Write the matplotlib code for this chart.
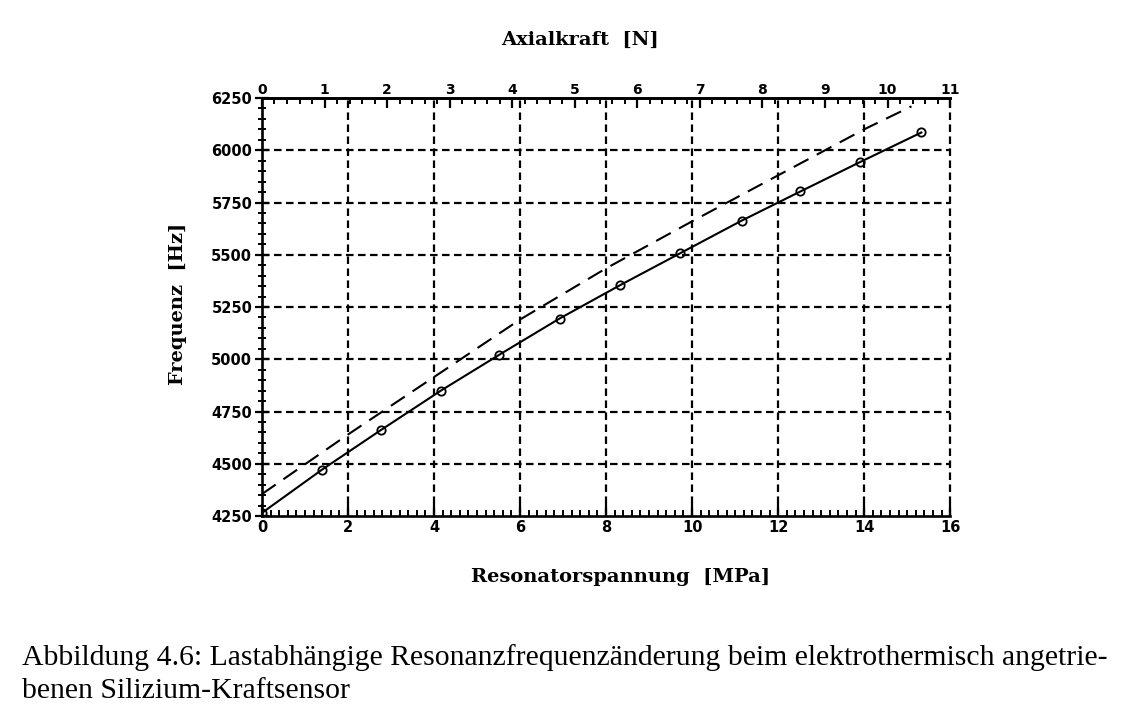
import numpy as np
import matplotlib
matplotlib.use('Agg')
import matplotlib.pyplot as plt
from matplotlib.ticker import MultipleLocator

# measured points (circles) and connecting line
spannung = [0.0, 1.39, 2.77, 4.16, 5.52, 6.92, 8.33, 9.73, 11.15, 12.52, 13.90, 15.33]
frequenz = [4265, 4471, 4662, 4850, 5022, 5195, 5355, 5508, 5663, 5803, 5943, 6085]

# dashed curve
spannung_theo = [0.0, 2.0, 4.0, 6.0, 8.0, 10.0, 12.0, 14.0, 15.1]
frequenz_theo = [4355, 4640, 4915, 5190, 5435, 5660, 5880, 6100, 6210]

xmax_mpa = 16
xmax_n = 11

caption = ('Abbildung 4.6: Lastabhängige Resonanzfrequenzänderung beim elektrothermisch angetrie-\n'
           'benen Silizium-Kraftsensor')

lab_font = dict(family='DejaVu Serif', fontweight='bold', fontsize=14)
tick_font = 'DejaVu Sans'

fig = plt.figure(figsize=(11.47, 7.19), dpi=100)
ax = fig.add_axes([0.2284, 0.2823, 0.6000, 0.5814])

ax.plot(spannung, frequenz, '-', color='k', lw=1.5)
ax.plot(spannung, frequenz, 'o', mfc='none', mec='k', ms=6, mew=1.3)
l, = ax.plot(spannung_theo, frequenz_theo, '-', color='k', lw=1.5)
l.set_dashes([8, 4.5])

ax.set_xlim(0, xmax_mpa)
ax.set_ylim(4250, 6250)

# grid
for xv in range(2, xmax_mpa + 1, 2):
    g, = ax.plot([xv, xv], [4250, 6250], color='k', lw=1.6, clip_on=False)
    g.set_dashes([3.4, 2.0])
for yv in range(4500, 6250, 250):
    g, = ax.plot([0, xmax_mpa], [yv, yv], color='k', lw=1.6)
    g.set_dashes([3.4, 2.0])

ax.spines['right'].set_visible(False)
for s in ['left', 'bottom', 'top']:
    ax.spines[s].set_linewidth(1.9)

ax.xaxis.set_major_locator(MultipleLocator(2))
ax.xaxis.set_minor_locator(MultipleLocator(0.2))
ax.yaxis.set_major_locator(MultipleLocator(250))
ax.yaxis.set_minor_locator(MultipleLocator(50))
ax.tick_params(axis='x', which='major', direction='in', length=9, width=1.6, pad=3)
ax.tick_params(axis='x', which='minor', direction='in', length=4.5, width=1.4)
ax.tick_params(axis='y', which='major', direction='inout', length=10, width=1.6, pad=2)
ax.tick_params(axis='y', which='minor', direction='inout', length=6, width=1.4)
for t in ax.get_xticklabels() + ax.get_yticklabels():
    t.set_family(tick_font)
    t.set_fontweight('bold')
    t.set_fontsize(10.5)

top = ax.secondary_xaxis('top', functions=(lambda x: x * xmax_n / xmax_mpa,
                                           lambda x: x * xmax_mpa / xmax_n))
top.xaxis.set_major_locator(MultipleLocator(1))
top.xaxis.set_minor_locator(MultipleLocator(0.2))
top.tick_params(axis='x', which='major', direction='in', length=7, width=1.6, pad=1)
top.tick_params(axis='x', which='minor', direction='in', length=4.5, width=1.4)
top.spines['top'].set_linewidth(1.9)
for t in top.get_xticklabels():
    t.set_family(tick_font)
    t.set_fontweight('bold')
    t.set_fontsize(10)
# top axis title, placed in main axes coordinates
ax.text(0.462, 1.139, 'Axialkraft  [N]', transform=ax.transAxes,
        ha='center', va='center', **lab_font)

ax.set_xlabel('Resonatorspannung  [MPa]', va='center', **lab_font)
ax.xaxis.set_label_coords(0.521, -0.146)
ax.set_ylabel('Frequenz  [Hz]', va='center', **lab_font)
ax.yaxis.set_label_coords(-0.122, 0.508)

fig.text(0.019, 0.062, caption, family='Liberation Serif', fontsize=21.4,
         ha='left', va='center', linespacing=1.35)

fig.savefig('out.png', dpi=100)
